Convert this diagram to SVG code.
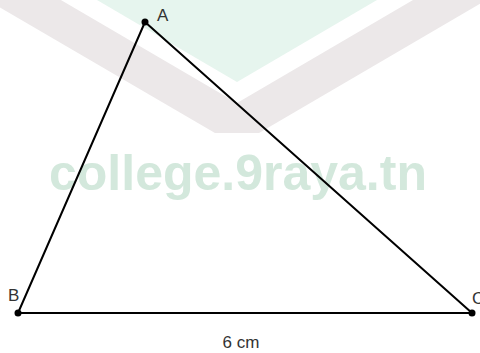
<svg xmlns="http://www.w3.org/2000/svg" width="480" height="353" viewBox="0 0 480 353">
  <style>
    .edge { stroke: #000; stroke-width: 2; fill: none; stroke-linecap: round; }
    .pt { fill: #000; }
    .lbl { font-family: "Liberation Sans", Arial, sans-serif; font-size: 17px; fill: #333; }
    .wm { font-family: "Liberation Sans", Arial, sans-serif; font-size: 50px; font-weight: bold; fill: #d3e8dc; }
  </style>
  <rect width="480" height="353" fill="#fff"/>
  <g id="watermark">
    <polygon points="97,0 377,0 237,82" fill="#e6f5ee"/>
    <polygon points="0,-35.6 237,103 480,-39.2 480,3.8 259,133 215,133 0,7.4" fill="#ece8e9"/>
    <text class="wm" x="49" y="190">college.9raya.tn</text>
  </g>
  <g id="connectors">
    <line class="edge" x1="145" y1="22" x2="18" y2="313"/>
    <line class="edge" x1="145" y1="22" x2="472" y2="313"/>
    <line class="edge" x1="18" y1="313" x2="472" y2="313"/>
    <text class="lbl" x="241" y="348" text-anchor="middle">6 cm</text>
  </g>
  <g id="A">
    <circle class="pt" cx="145" cy="22" r="3.5"/>
    <text class="lbl" x="157" y="21">A</text>
  </g>
  <g id="B">
    <circle class="pt" cx="18" cy="313" r="3.5"/>
    <text class="lbl" x="8" y="301">B</text>
  </g>
  <g id="C">
    <circle class="pt" cx="472" cy="313" r="3.5"/>
    <text class="lbl" x="472" y="304">C</text>
  </g>
</svg>
